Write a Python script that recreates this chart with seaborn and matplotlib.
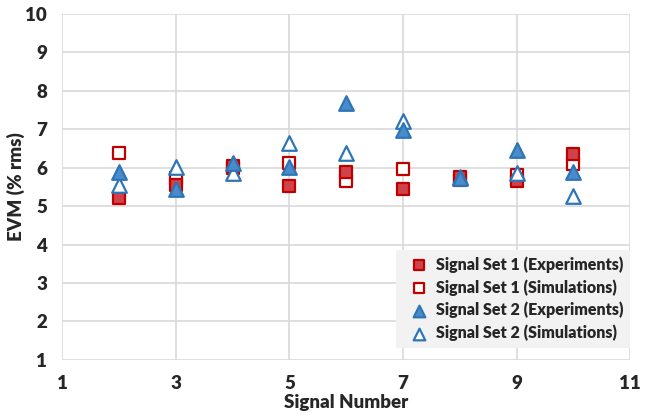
import numpy as np
import pandas as pd
import matplotlib
matplotlib.use("Agg")
import matplotlib.pyplot as plt
import seaborn as sns

# --- DATA ---
signal_number = [2, 3, 4, 5, 6, 7, 8, 9, 10]
set1_exp = [5.22, 5.55, 6.05, 5.52, 5.90, 5.45, 5.75, 5.65, 6.35]
set1_sim = [6.38, 5.72, 6.00, 6.12, 5.66, 5.96, 5.68, 5.80, 6.10]
set2_exp = [5.88, 5.44, 6.13, 6.02, 7.68, 6.97, 5.72, 6.47, 5.90]
set2_sim = [5.55, 6.03, 5.86, 6.63, 6.38, 7.22, 5.76, 5.86, 5.27]

series_labels = ["Signal Set 1 (Experiments)", "Signal Set 1 (Simulations)",
                 "Signal Set 2 (Experiments)", "Signal Set 2 (Simulations)"]
x_ticks = [1, 3, 5, 7, 9, 11]
y_ticks = [1, 2, 3, 4, 5, 6, 7, 8, 9, 10]

# --- STYLE ---
RED_EDGE = '#C00000'
RED_FILL = '#D0424A'
BLUE_EDGE = '#2E75B6'
BLUE_FILL = '#4A8CCB'

styles = {
    series_labels[0]: dict(marker='s', facecolor=RED_FILL, edgecolor=RED_EDGE, s=80),
    series_labels[1]: dict(marker='s', facecolor='white', edgecolor=RED_EDGE, s=80),
    series_labels[2]: dict(marker='^', facecolor=BLUE_FILL, edgecolor=BLUE_EDGE, s=110),
    series_labels[3]: dict(marker='^', facecolor='white', edgecolor=BLUE_EDGE, s=110),
}

records = []
for label, vals in zip(series_labels, [set1_exp, set1_sim, set2_exp, set2_sim]):
    for x, v in zip(signal_number, vals):
        records.append({'signal': x, 'evm': v, 'series': label})
df = pd.DataFrame(records)

sns.set_style("white")
plt.rcParams['font.family'] = ['Lato', 'DejaVu Sans']

fig = plt.figure(figsize=(6.55, 4.2), dpi=100)
ax = fig.add_axes([0.095, 0.143, 0.867, 0.824])

# draw order roughly as in reference (experiments on top of simulations)
for label in [series_labels[1], series_labels[0], series_labels[3], series_labels[2]]:
    st = styles[label]
    sub = df[df['series'] == label]
    sns.scatterplot(data=sub, x='signal', y='evm', ax=ax, marker=st['marker'],
                    s=st['s'], color=st['facecolor'], edgecolor=st['edgecolor'],
                    linewidth=1.6, label=label, zorder=3)

ax.set_xlim(1, 11)
ax.set_ylim(1, 10)
ax.set_xticks(x_ticks)
ax.set_yticks(y_ticks)
ax.grid(True, color='#d9d9d9', linewidth=1.2)
for side in ['top', 'right', 'left', 'bottom']:
    ax.spines[side].set_visible(False)
ax.tick_params(axis='both', length=5, width=1.2, color='#d9d9d9',
               labelsize=13.5, pad=6)
for t in ax.get_xticklabels() + ax.get_yticklabels():
    t.set_fontweight('heavy')

ax.set_xlabel("Signal Number", fontsize=13.5, fontweight='heavy', labelpad=1)
ax.set_ylabel("EVM (% rms)", fontsize=13.5, fontweight='heavy', labelpad=0)

handles, labels = ax.get_legend_handles_labels()
order = [labels.index(l) for l in series_labels]
leg = ax.legend([handles[i] for i in order], [labels[i] for i in order],
                loc='lower right', bbox_to_anchor=(1.0, 0.035), borderaxespad=0,
                frameon=True, fancybox=False, facecolor='#f2f2f2', edgecolor='none',
                framealpha=1, handletextpad=0.1, borderpad=0.4, labelspacing=0.4,
                prop={'weight': 'heavy', 'size': 11.5}, markerscale=0.8)
leg.set_zorder(5)

fig.savefig("out.png", dpi=100)
